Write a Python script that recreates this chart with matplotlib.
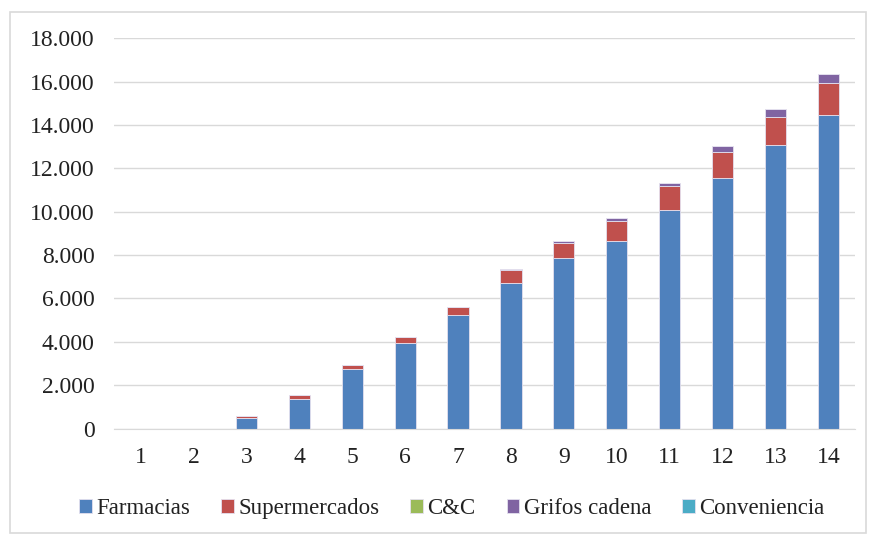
import numpy as np
import matplotlib
matplotlib.use("Agg")
import matplotlib.pyplot as plt
from matplotlib.ticker import FuncFormatter
from matplotlib.patches import Rectangle

# data
years = [str(i) for i in range(1, 15)]
farmacias = [0, 0, 490, 1360, 2730, 3940, 5220, 6690, 7850, 8650, 10100, 11570, 13090, 14460]
supermercados = [0, 0, 110, 180, 215, 270, 385, 605, 700, 900, 1080, 1200, 1300, 1470]
cyc = [0, 0, 0, 0, 0, 0, 0, 0, 0, 0, 0, 0, 0, 0]
grifos = [0, 0, 0, 0, 0, 0, 0, 45, 120, 160, 160, 280, 340, 430]
conveniencia = [0, 0, 0, 0, 0, 0, 0, 0, 0, 0, 0, 0, 0, 0]

series = [("Farmacias", farmacias, "#4F81BD"),
          ("Supermercados", supermercados, "#C0504D"),
          ("C&C", cyc, "#9BBB59"),
          ("Grifos cadena", grifos, "#8064A2"),
          ("Conveniencia", conveniencia, "#4BACC6")]

plt.rcParams['font.family'] = ['Liberation Serif', 'DejaVu Serif']

fig = plt.figure(figsize=(8.69, 5.35), dpi=100)
ax = fig.add_axes([0.1312, 0.199, 0.8527, 0.7294])

x = np.arange(len(years))
bottom = np.zeros(len(years))
for name, vals, col in series:
    vals = np.array(vals, dtype=float)
    ax.bar(x, vals, 0.4, bottom=bottom, color=col, label=name,
           edgecolor="#E4E0EE", linewidth=0.6)
    bottom += vals

ax.set_xlim(-0.5, len(years) - 0.5)
ax.set_ylim(0, 18000)
ax.set_yticks(range(0, 18001, 2000))
ax.yaxis.set_major_formatter(FuncFormatter(lambda v, p: f"{int(v):,}".replace(",", ".")))
ax.set_xticks(x)
ax.set_xticklabels(years)
ax.grid(axis="y", color="#D9D9D9", linewidth=1)
ax.set_axisbelow(True)
for s in ["top", "right", "left"]:
    ax.spines[s].set_visible(False)
ax.spines["bottom"].set_color("#D9D9D9")
ax.tick_params(length=0, labelsize=17, colors="#222222")
ax.tick_params(axis="y", pad=14)
ax.tick_params(axis="x", pad=13)

ax.legend(loc="center", bbox_to_anchor=(0.52, 0.05), bbox_transform=fig.transFigure,
          ncol=5, frameon=False, fontsize=16.5, handlelength=0.55, handleheight=0.55,
          handletextpad=0.2, columnspacing=1.35, labelcolor="#222222")

# chart border
fig.patches.append(Rectangle((10 / 869, 2 / 535), 856 / 869, 521 / 535,
                             transform=fig.transFigure, fill=False,
                             edgecolor="#D9D9D9", linewidth=1.2))

fig.savefig("out.png", dpi=100)
